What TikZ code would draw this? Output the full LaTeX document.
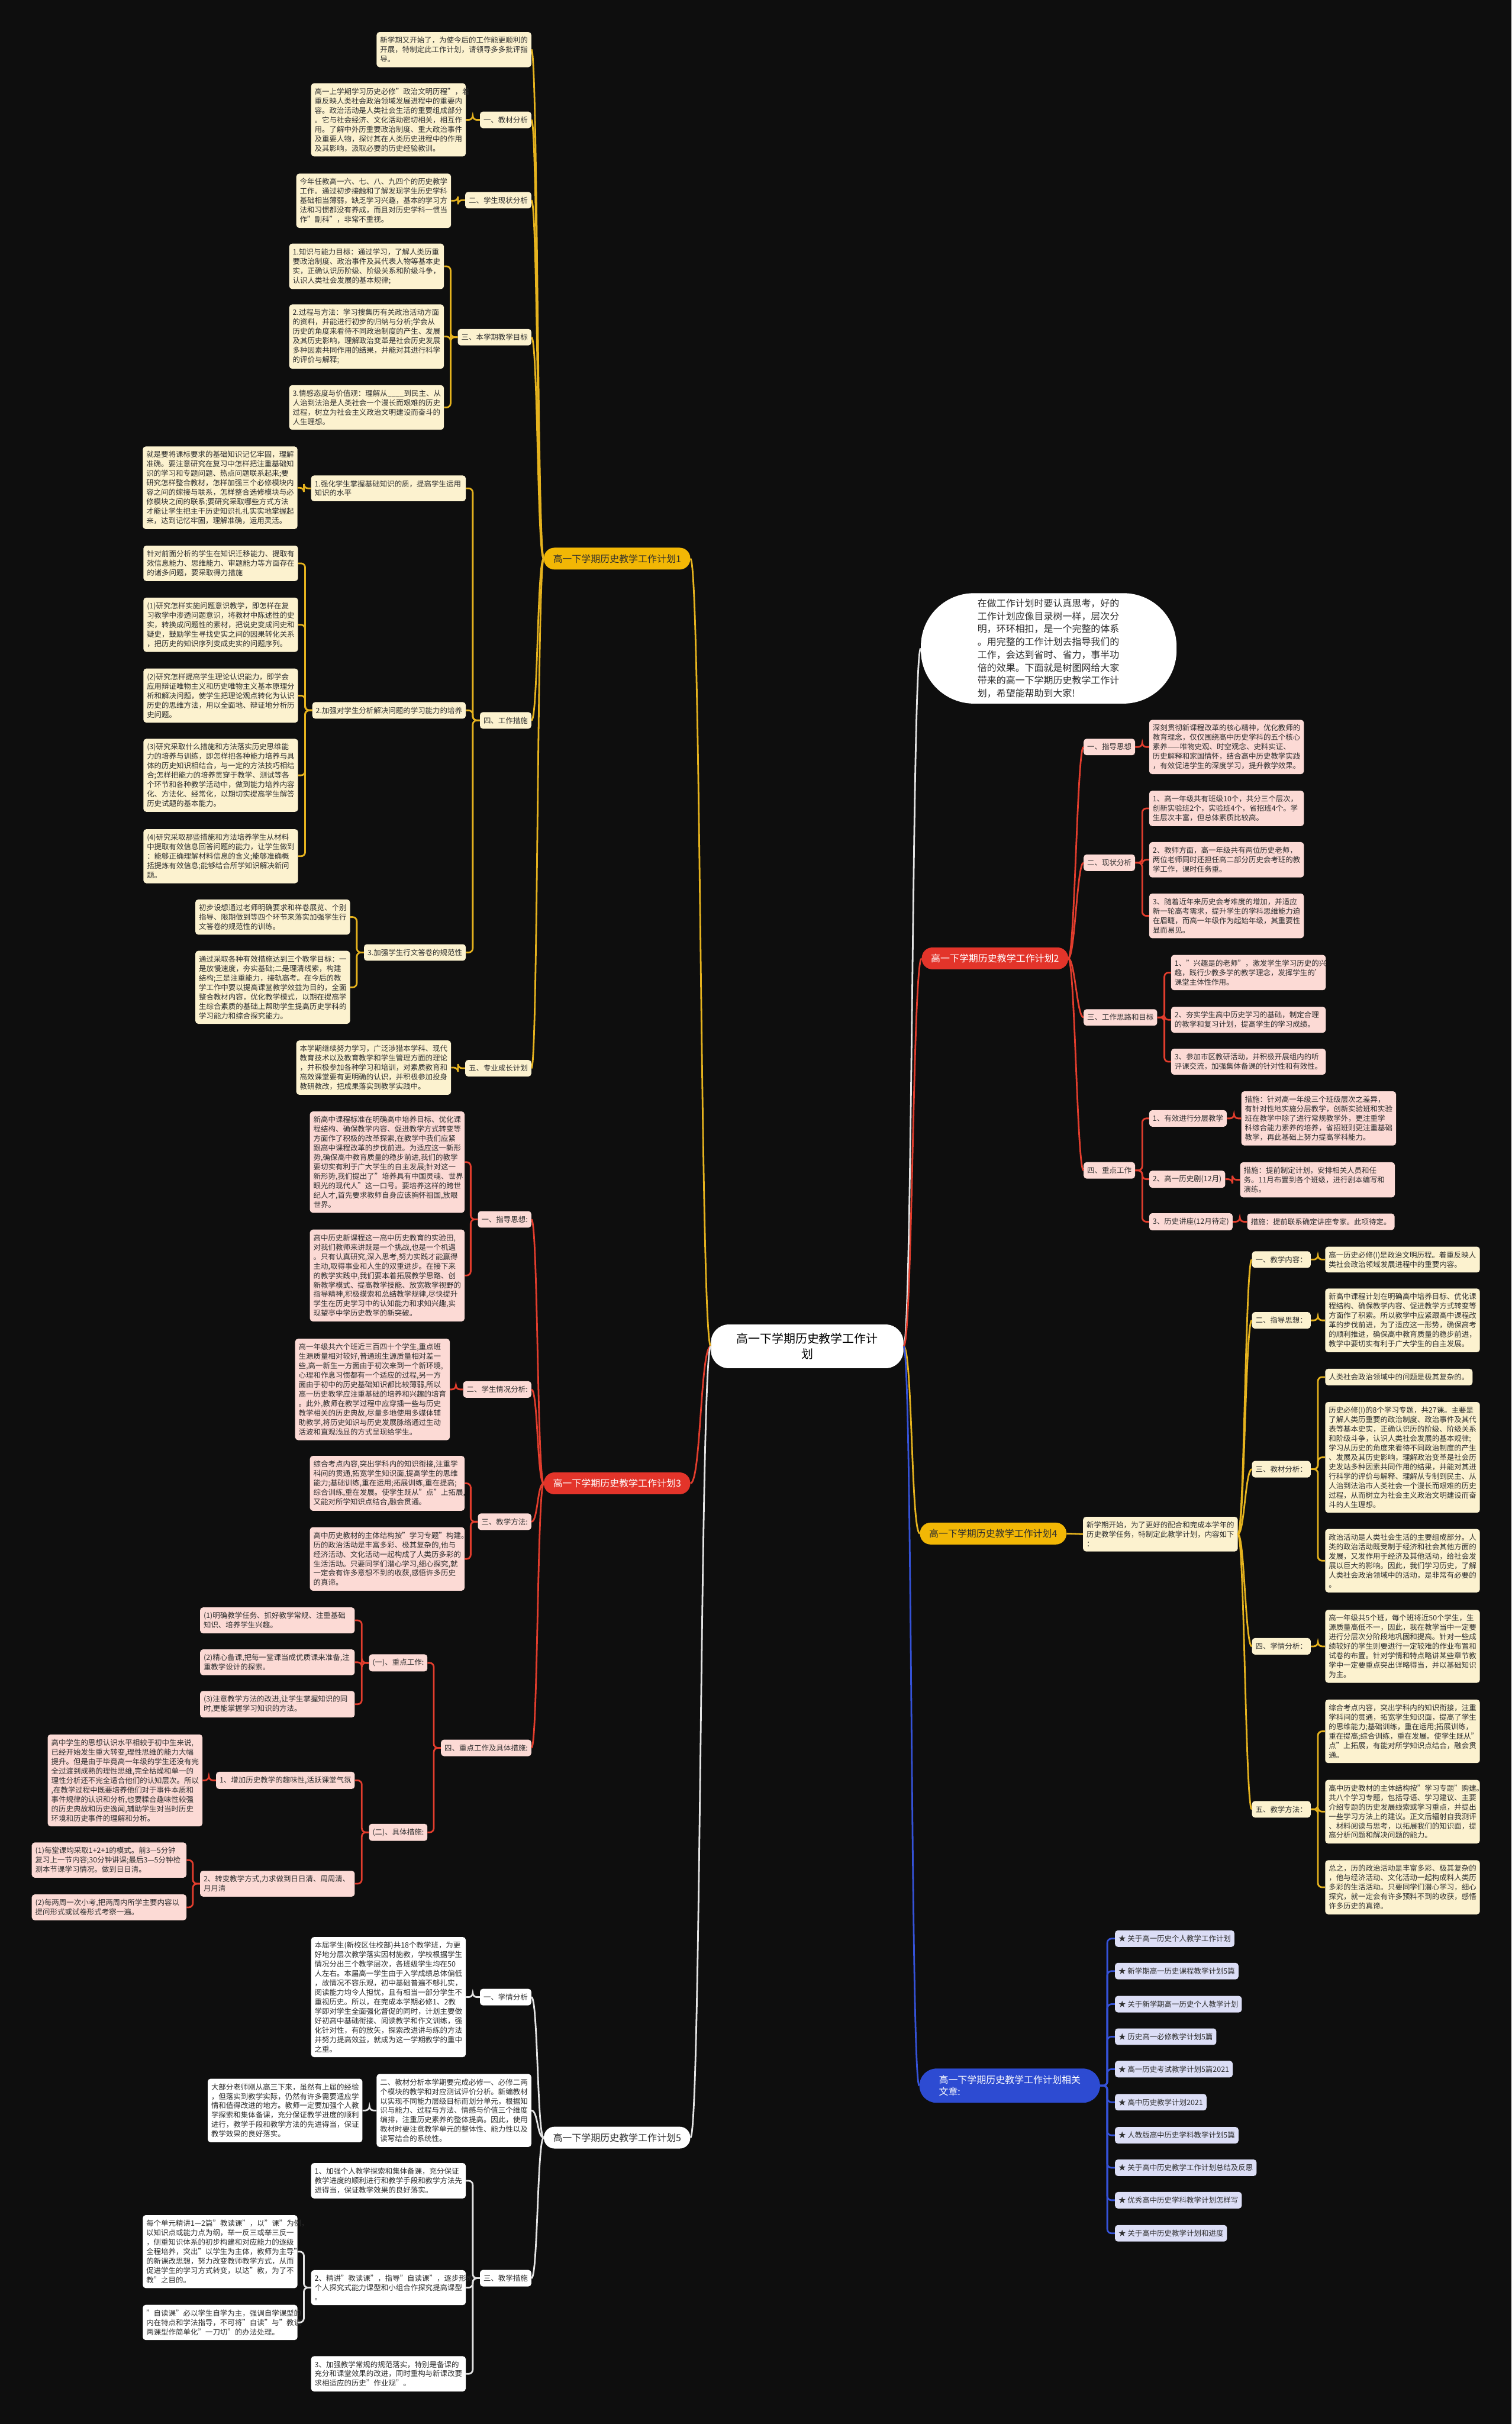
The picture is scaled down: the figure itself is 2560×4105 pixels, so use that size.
\documentclass[tikz,border=0pt]{standalone}
\usepackage{fontspec}
\setmainfont{Noto Sans CJK SC}
\definecolor{bgc}{HTML}{0E0E0E}
\definecolor{txt}{HTML}{2E2E2E}
\definecolor{ycol}{HTML}{E6B31E}
\definecolor{ybr}{HTML}{F2B705}
\definecolor{ccream}{HTML}{FCF2CF}
\definecolor{rcol}{HTML}{E23D2D}
\definecolor{rbr}{HTML}{E3342A}
\definecolor{cpink}{HTML}{FCDAD5}
\definecolor{wcol}{HTML}{E4E4E4}
\definecolor{bcol}{HTML}{3552D8}
\definecolor{bbr}{HTML}{2D4BD2}
\definecolor{clav}{HTML}{DCDEF6}
\newcommand\fsz{\fontsize{12.5pt}{16pt}\selectfont}
\newcommand\fbr{\fontsize{16pt}{20pt}\selectfont}
\newcommand\fctr{\fontsize{20pt}{26pt}\selectfont}
\newcommand\fbub{\fontsize{16pt}{21.8pt}\selectfont}
\newcommand\myCL[3]{\draw[#1] (#2.west) .. controls +(-11,0) and +(11,0) .. (#3.east);}
\newcommand\myCR[3]{\draw[#1] (#2.east) .. controls +(11,0) and +(-11,0) .. (#3.west);}
\newcommand\myEL[3]{\draw[#1] (#2.west) -- ++(-12,0) |- (#3.east);}
\newcommand\myER[3]{\draw[#1] (#2.east) -- ++(12,0) |- (#3.west);}
\tikzset{
  base/.style={rounded corners=5pt, inner xsep=6pt, inner ysep=8pt, text=txt, font=\fsz},
  box/.style={base, text width=250pt, align=left},
  lab/.style={base, minimum height=28pt},
  ybox/.style={box, fill=ccream}, ylab/.style={lab, fill=ccream},
  rbox/.style={box, fill=cpink}, rlab/.style={lab, fill=cpink},
  wbox/.style={box, fill=white}, wlab/.style={lab, fill=white},
  lnk/.style={lab, fill=clav},
  br/.style={rounded corners=18pt, minimum width=248pt, minimum height=37pt, inner xsep=8pt, font=\fbr},
  ylc/.style={draw=ycol, line width=2.8pt, rounded corners=7pt},
  rlc/.style={draw=rcol, line width=2.8pt, rounded corners=7pt},
  wlc/.style={draw=wcol, line width=2.8pt, rounded corners=7pt},
  blc/.style={draw=bcol, line width=2.8pt, rounded corners=7pt}
}
\begin{document}
\hyphenpenalty=10000
\exhyphenpenalty=10000
\begin{tikzpicture}[x=1pt,y=-1pt]
\fill[bgc] (0,0) rectangle (2560,4105);
\useasboundingbox (0,0) rectangle (2560,4105);

% ---------- centre, bubble ----------
\node[fill=white, rounded corners=30pt, text width=240pt, align=center, inner xsep=43pt, inner ysep=12pt, minimum height=74pt, font=\fctr, text=black] (c) at (1367,2280) {高一下学期历史教学工作计\\划};
\node[fill=white, rounded corners=90pt, text width=241pt, align=left, inner xsep=96pt, minimum height=187pt, font=\fbub, text=txt] (bub) at (1776,1098) {在做工作计划时要认真思考，好的\\工作计划应像目录树一样，层次分\\明，环环相扣，是一个完整的体系\\。用完整的工作计划去指导我们的\\工作，会达到省时、省力，事半功\\倍的效果。下面就是树图网给大家\\带来的高一下学期历史教学工作计\\划，希望能帮助到大家!};

% ---------- branch 1 ----------
\node[br, fill=ybr, text=txt] (b1) at (1045,946) {高一下学期历史教学工作计划1};
\node[ybox, anchor=east] (n1a) at (900,84) {新学期又开始了，为使今后的工作能更顺利的\\开展，特制定此工作计划，请领导多多批评指\\导。};
\node[ylab, anchor=east] (n1b) at (900,203) {一、教材分析};
\node[ybox, anchor=east] (n1b1) at (789,203) {高一上学期学习历史必修"政治文明历程"，着\\重反映人类社会政治领域发展进程中的重要内\\容。政治活动是人类社会生活的重要组成部分\\。它与社会经济、文化活动密切相关，相互作\\用。了解中外历重要政治制度、重大政治事件\\及重要人物，探讨其在人类历史进程中的作用\\及其影响，汲取必要的历史经验教训。};
\node[ylab, anchor=east] (n1c) at (900,339) {二、学生现状分析};
\node[ybox, anchor=east] (n1c1) at (764,340) {今年任教高一六、七、八、九四个的历史教学\\工作。通过初步接触和了解发现学生历史学科\\基础相当薄弱，缺乏学习兴趣，基本的学习方\\法和习惯都没有养成，而且对历史学科一惯当\\作"副科"，非常不重视。};
\node[ylab, anchor=east] (n1d) at (900,571) {三、本学期教学目标};
\node[ybox, anchor=east] (n1d1) at (752,451) {1.知识与能力目标：通过学习，了解人类历重\\要政治制度、政治事件及其代表人物等基本史\\实，正确认识历阶级、阶级关系和阶级斗争，\\认识人类社会发展的基本规律;};
\node[ybox, anchor=east] (n1d2) at (752,570) {2.过程与方法：学习搜集历有关政治活动方面\\的资料，并能进行初步的归纳与分析;学会从\\历史的角度来看待不同政治制度的产生、发展\\及其历史影响，理解政治变革是社会历史发展\\多种因素共同作用的结果，并能对其进行科学\\的评价与解释;};
\node[ybox, anchor=east] (n1d3) at (752,690) {3.情感态度与价值观：理解从\_\_\_\_到民主、从\\人治到法治是人类社会一个漫长而艰难的历史\\过程，树立为社会主义政治文明建设而奋斗的\\人生理想。};
\node[ylab, anchor=east] (n1e) at (900,1220) {四、工作措施};
\node[ybox, anchor=east] (n1e1) at (789,827) {1.强化学生掌握基础知识的质，提高学生运用\\知识的水平};
\node[ybox, anchor=east] (n1e1a) at (504,826) {就是要将课标要求的基础知识记忆牢固，理解\\准确。要注意研究在复习中怎样把注重基础知\\识的学习和专题问题、热点问题联系起来;要\\研究怎样整合教材，怎样加强三个必修模块内\\容之间的嫁接与联系，怎样整合选修模块与必\\修模块之间的联系;要研究采取哪些方式方法\\才能让学生把主干历史知识扎扎实实地掌握起\\来，达到记忆牢固，理解准确，运用灵活。};
\node[ylab, anchor=east] (n1e2) at (789,1203) {2.加强对学生分析解决问题的学习能力的培养};
\node[ybox, anchor=east] (n1e2a) at (505,954) {针对前面分析的学生在知识迁移能力、提取有\\效信息能力、思维能力、审题能力等方面存在\\的诸多问题，要采取得力措施};
\node[ybox, anchor=east] (n1e2b) at (505,1058) {(1)研究怎样实施问题意识教学，即怎样在复\\习教学中渗透问题意识，将教材中陈述性的史\\实，转换成问题性的素材，把说史变成问史和\\疑史，鼓励学生寻找史实之间的因果转化关系\\，把历史的知识序列变成史实的问题序列。};
\node[ybox, anchor=east] (n1e2c) at (505,1178) {(2)研究怎样提高学生理论认识能力，即学会\\应用辩证唯物主义和历史唯物主义基本原理分\\析和解决问题，使学生把理论观点转化为认识\\历史的思维方法，用以全面地、辩证地分析历\\史问题。};
\node[ybox, anchor=east] (n1e2d) at (505,1313) {(3)研究采取什么措施和方法落实历史思维能\\力的培养与训练，即怎样把各种能力培养与具\\体的历史知识相结合，与一定的方法技巧相结\\合;怎样把能力的培养贯穿于教学、测试等各\\个环节和各种教学活动中，做到能力培养内容\\化、方法化、经常化，以期切实提高学生解答\\历史试题的基本能力。};
\node[ybox, anchor=east] (n1e2e) at (505,1450) {(4)研究采取那些措施和方法培养学生从材料\\中提取有效信息回答问题的能力，让学生做到\\：能够正确理解材料信息的含义;能够准确概\\括提炼有效信息;能够结合所学知识解决新问\\题。};
\node[ylab, anchor=east] (n1e3) at (789,1613) {3.加强学生行文答卷的规范性};
\node[ybox, anchor=east] (n1e3a) at (593,1553) {初步设想通过老师明确要求和样卷展览、个别\\指导、限期做到等四个环节来落实加强学生行\\文答卷的规范性的训练。};
\node[ybox, anchor=east] (n1e3b) at (593,1672) {通过采取各种有效措施达到三个教学目标：一\\是放慢速度，夯实基础;二是理清线索，构建\\结构;三是注重能力，接轨高考。在今后的教\\学工作中要以提高课堂教学效益为目的，全面\\整合教材内容，优化教学模式，以期在提高学\\生综合素质的基础上帮助学生提高历史学科的\\学习能力和综合探究能力。};
\node[ylab, anchor=east] (n1f) at (900,1809) {五、专业成长计划};
\node[ybox, anchor=east] (n1f1) at (764,1808) {本学期继续努力学习，广泛涉猎本学科、现代\\教育技术以及教育教学和学生管理方面的理论\\，并积极参加各种学习和培训，对素质教育和\\高效课堂要有更明确的认识，并积极参加投身\\教研教改，把成果落实到教学实践中。};

% ---------- branch 3 ----------
\node[br, fill=rbr, text=white] (b3) at (1045,2512) {高一下学期历史教学工作计划3};
\node[rlab, anchor=east] (n3a) at (900,2065) {一、指导思想:};
\node[rbox, anchor=east] (n3a1) at (787,1968) {新高中课程标准在明确高中培养目标、优化课\\程结构、确保教学内容、促进教学方式转变等\\方面作了积极的改革探索,在教学中我们应紧\\跟高中课程改革的步伐前进。为适应这一新形\\势,确保高中教育质量的稳步前进,我们的教学\\要切实有利于广大学生的自主发展;针对这一\\新形势,我们提出了"培养具有中国灵魂、世界\\眼光的现代人"这一口号。要培养这样的跨世\\纪人才,首先要求教师自身应该胸怀祖国,放眼\\世界。};
\node[rbox, anchor=east] (n3a2) at (787,2160) {高中历史新课程这一高中历史教育的实验田,\\对我们教师来讲既是一个挑战,也是一个机遇\\。只有认真研究,深入思考,努力实践才能赢得\\主动,取得事业和人生的双重进步。在接下来\\的教学实践中,我们要本着拓展教学思路、创\\新教学模式、提高教学技能、放宽教学视野的\\指导精神,积极摸索和总结教学规律,尽快提升\\学生在历史学习中的认知能力和求知兴趣,实\\现望亭中学历史教学的新突破。};
\node[rlab, anchor=east] (n3b) at (900,2353) {二、学生情况分析:};
\node[rbox, anchor=east] (n3b1) at (762,2353) {高一年级共六个班近三百四十个学生,重点班\\生源质量相对较好,普通班生源质量相对差一\\些,高一新生一方面由于初次来到一个新环境,\\心理和作息习惯都有一个适应的过程,另一方\\面由于初中的历史基础知识都比较薄弱,所以\\高一历史教学应注重基础的培养和兴趣的培育\\。此外,教师在教学过程中应穿插一些与历史\\教学相关的历史典故,尽量多地使用多媒体辅\\助教学,将历史知识与历史发展脉络通过生动\\活波和直观浅显的方式呈现给学生。};
\node[rlab, anchor=east] (n3c) at (900,2577) {三、教学方法:};
\node[rbox, anchor=east] (n3c1) at (787,2512) {综合考点内容,突出学科内的知识衔接,注重学\\科间的贯通,拓宽学生知识面,提高学生的思维\\能力;基础训练,重在运用;拓展训练,重在提高;\\综合训练,重在发展。使学生既从"点"上拓展,\\又能对所学知识点结合,融会贯通。};
\node[rbox, anchor=east] (n3c2) at (787,2640) {高中历史教材的主体结构按"学习专题"构建。\\历的政治活动是丰富多彩、极其复杂的,他与\\经济活动、文化活动一起构成了人类历多彩的\\生活活动。只要同学们潜心学习,细心探究,就\\一定会有许多意想不到的收获,感悟许多历史\\的真谛。};
\node[rlab, anchor=east] (n3d) at (900,2960) {四、重点工作及具体措施:};
\node[rlab, anchor=east] (n3d1) at (724,2816) {(一)、重点工作:};
\node[rbox, anchor=east] (n3d1a) at (601,2744) {(1)明确教学任务、抓好教学常规、注重基础\\知识、培养学生兴趣。};
\node[rbox, anchor=east] (n3d1b) at (601,2815) {(2)精心备课,把每一堂课当成优质课来准备,注\\重教学设计的探索。};
\node[rbox, anchor=east] (n3d1c) at (601,2886) {(3)注意教学方法的改进,让学生掌握知识的同\\时,更能掌握学习知识的方法。};
\node[rlab, anchor=east] (n3d2) at (724,3103) {(二)、具体措施:};
\node[rlab, anchor=east] (n3d2a) at (601,3015) {1、增加历史教学的趣味性,活跃课堂气氛};
\node[rbox, anchor=east] (n3d2a1) at (343,3015) {高中学生的思想认识水平相较于初中生来说,\\已经开始发生重大转变,理性思维的能力大幅\\提升。但是由于毕竟高一年级的学生还没有完\\全过渡到成熟的理性思维,完全枯燥和单一的\\理性分析还不完全适合他们的认知层次。所以\\,在教学过程中既要培养他们对于事件本质和\\事件规律的认识和分析,也要糅合趣味性较强\\的历史典故和历史逸闻,辅助学生对当时历史\\环境和历史事件的理解和分析。};
\node[rbox, anchor=east] (n3d2b) at (601,3190) {2、转变教学方式,力求做到日日清、周周清、\\月月清};
\node[rbox, anchor=east] (n3d2b1) at (316,3150) {(1)每堂课均采取1+2+1的模式。前3—5分钟\\复习上一节内容;30分钟讲课;最后3—5分钟检\\测本节课学习情况。做到日日清。};
\node[rbox, anchor=east] (n3d2b2) at (316,3230) {(2)每两周一次小考,把两周内所学主要内容以\\提问形式或试卷形式考察一遍。};

% ---------- branch 5 ----------
\node[br, fill=white, text=txt] (b5) at (1045,3620) {高一下学期历史教学工作计划5};
\node[wlab, anchor=east] (n5a) at (900,3382) {一、学情分析};
\node[wbox, anchor=east] (n5a1) at (789,3382) {本届学生(新校区住校部)共18个教学班，为更\\好地分层次教学落实因材施教，学校根据学生\\情况分出三个教学层次，各班级学生均在50\\人左右。本届高一学生由于入学成绩总体偏低\\，故情况不容乐观，初中基础普遍不够扎实，\\阅读能力均令人担忧，且有相当一部分学生不\\重视历史。所以，在完成本学期必修1、2教\\学即对学生全面强化督促的同时，计划主要做\\好初高中基础衔接、阅读教学和作文训练，强\\化针对性，有的放矢，探索改进讲与练的方法\\并努力提高效益，就成为这一学期教学的重中\\之重。};
\node[wbox, anchor=east] (n5b) at (900,3574) {二、教材分析本学期要完成必修一、必修二两\\个模块的教学和对应测试评价分析。新编教材\\以实现不同能力层级目标而划分单元，根据知\\识与能力、过程与方法、情感与价值三个维度\\编排，注重历史素养的整体提高。因此，使用\\教材时要注意教学单元的整体性、能力性以及\\读写结合的系统性。};
\node[wbox, anchor=east] (n5b1) at (614,3574) {大部分老师刚从高三下来，虽然有上届的经验\\，但落实到教学实际，仍然有许多需要适应学\\情和值得改进的地方。教师一定要加强个人教\\学探索和集体备课，充分保证教学进度的顺利\\进行，教学手段和教学方法的先进得当，保证\\教学效果的良好落实。};
\node[wlab, anchor=east] (n5c) at (900,3858) {三、教学措施};
\node[wbox, anchor=east] (n5c1) at (789,3693) {1、加强个人教学探索和集体备课，充分保证\\教学进度的顺利进行和教学手段和教学方法先\\进得当，保证教学效果的良好落实。};
\node[wbox, anchor=east] (n5c2) at (789,3874) {2、精讲"教读课"，指导"自读课"，逐步形成\\个人探究式能力课型和小组合作探究提高课型\\。};
\node[wbox, anchor=east] (n5c3) at (789,4020) {3、加强教学常规的规范落实，特别是备课的\\充分和课堂效果的改进，同时重构与新课改要\\求相适应的历史"作业观"。};
\node[wbox, anchor=east] (n5c2a) at (504,3813) {\mbox{每个单元精讲1—2篇"教读课"，以"课"为例，}\\以知识点或能力点为纲，举一反三或举三反一\\，侧重知识体系的初步构建和对应能力的逐级\\全程培养，突出"以学生为主体，教师为主导"\\的新课改思想，努力改变教师教学方式，从而\\促进学生的学习方式转变，以达"教，为了不\\教"之目的。};
\node[wbox, anchor=east] (n5c2b) at (504,3933) {"自读课"必以学生自学为主，强调自学课型的\\内在特点和学法指导，不可将"自读"与"教读"\\两课型作简单化"一刀切"的办法处理。};

% ---------- branch 2 ----------
\node[br, fill=rbr, text=white] (b2) at (1685,1623) {高一下学期历史教学工作计划2};
\node[rlab, anchor=west] (n2a) at (1835,1265) {一、指导思想};
\node[rbox, anchor=west] (n2a1) at (1946,1265) {深刻贯彻新课程改革的核心精神，优化教师的\\教育理念，仅仅围绕高中历史学科的五个核心\\素养——唯物史观、时空观念、史料实证、\\历史解释和家国情怀，结合高中历史教学实践\\，有效促进学生的深度学习，提升教学效果。};
\node[rlab, anchor=west] (n2b) at (1835,1461) {二、现状分析};
\node[rbox, anchor=west] (n2b1) at (1946,1369) {1、高一年级共有班级10个，共分三个层次，\\创新实验班2个，实验班4个，省招班4个。学\\生层次丰富，但总体素质比较高。};
\node[rbox, anchor=west] (n2b2) at (1946,1456) {2、教师方面，高一年级共有两位历史老师，\\两位老师同时还担任高二部分历史会考班的教\\学工作，课时任务重。};
\node[rbox, anchor=west] (n2b3) at (1946,1551) {3、随着近年来历史会考难度的增加，并适应\\新一轮高考需求，提升学生的学科思维能力迫\\在眉睫，而高一年级作为起始年级，其重要性\\显而易见。};
\node[rlab, anchor=west] (n2c) at (1835,1723) {三、工作思路和目标};
\node[rbox, anchor=west] (n2c1) at (1983,1647) {1、"兴趣是的老师"，激发学生学习历史的兴\\趣，践行少教多学的教学理念，发挥学生的'\\课堂主体性作用。};
\node[rbox, anchor=west] (n2c2) at (1983,1727) {2、夯实学生高中历史学习的基础，制定合理\\的教学和复习计划，提高学生的学习成绩。};
\node[rbox, anchor=west] (n2c3) at (1983,1798) {3、参加市区教研活动，并积极开展组内的听\\评课交流，加强集体备课的针对性和有效性。};
\node[rlab, anchor=west] (n2d) at (1835,1982) {四、重点工作};
\node[rlab, anchor=west] (n2d1) at (1946,1894) {1、有效进行分层教学};
\node[rlab, anchor=west] (n2d2) at (1946,1997) {2、高一历史剧(12月)};
\node[rlab, anchor=west] (n2d3) at (1946,2069) {3、历史讲座(12月待定)};
\node[rbox, anchor=west] (n2d1a) at (2102,1894) {措施：针对高一年级三个班级层次之差异，\\有针对性地实施分层教学，创新实验班和实验\\班在教学中除了进行常规教学外，更注重学\\科综合能力素养的培养，省招班则更注重基础\\教学，再此基础上努力提高学科能力。};
\node[rbox, anchor=west] (n2d2a) at (2100,1998) {措施：提前制定计划，安排相关人员和任\\务。11月布置到各个班级，进行剧本编写和\\演练。};
\node[rlab, anchor=west] (n2d3a) at (2112,2069) {措施：提前联系确定讲座专家。此项待定。};

% ---------- branch 4 ----------
\node[br, fill=ybr, text=txt] (b4) at (1682,2597) {高一下学期历史教学工作计划4};
\node[ybox, anchor=west] (n4t) at (1834,2598) {新学期开始，为了更好的配合和完成本学年的\\历史教学任务，特制定此教学计划，内容如下\\：};
\node[ylab, anchor=west] (n4a) at (2120,2133) {一、教学内容：};
\node[ybox, anchor=west] (n4a1) at (2244,2133) {高一历史必修(I)是政治文明历程。着重反映人\\类社会政治领域发展进程中的重要内容。};
\node[ylab, anchor=west] (n4b) at (2120,2236) {二、指导思想：};
\node[ybox, anchor=west] (n4b1) at (2244,2236) {新高中课程计划在明确高中培养目标、优化课\\程结构、确保教学内容、促进教学方式转变等\\方面作了积索。所以教学中应紧跟高中课程改\\革的步伐前进，为了适应这一形势，确保高考\\的顺利推进，确保高中教育质量的稳步前进，\\教学中要切实有利于广大学生的自主发展。};
\node[ylab, anchor=west] (n4c) at (2120,2488) {三、教材分析：};
\node[ylab, anchor=west] (n4c1) at (2244,2332) {人类社会政治领域中的问题是极其复杂的。};
\node[ybox, anchor=west] (n4c2) at (2244,2468) {历史必修(I)的8个学习专题，共27课。主要是\\了解人类历重要的政治制度、政治事件及其代\\表等基本史实，正确认识历的阶级、阶级关系\\和阶级斗争，认识人类社会发展的基本规律;\\学习从历史的角度来看待不同政治制度的产生\\、发展及其历史影响，理解政治变革是社会历\\史发站多种因素共同作用的结果，并能对其进\\行科学的评价与解释、理解从专制到民主、从\\人治到法治市人类社会一个漫长而艰难的历史\\过程，从而树立为社会主义政治文明建设而奋\\斗的人生理想。};
\node[ybox, anchor=west] (n4c3) at (2244,2643) {政治活动是人类社会生活的主要组成部分。人\\类的政治活动既受制于经济和社会其他方面的\\发展，又发作用于经济及其他活动，给社会发\\展以巨大的影响。因此，我们学习历史，了解\\人类社会政治领域中的活动，是非常有必要的\\。};
\node[ylab, anchor=west] (n4d) at (2120,2788) {四、学情分析：};
\node[ybox, anchor=west] (n4d1) at (2244,2788) {高一年级共5个班，每个班将近50个学生，生\\源质量高低不一，因此，我在教学当中一定要\\进行分层次分阶段地巩固和提高。针对一些成\\绩较好的学生则要进行一定较难的作业布置和\\试卷的布置。针对学情和特点略讲某些章节教\\学中一定要重点突出详略得当，并以基础知识\\为主。};
\node[ylab, anchor=west] (n4e) at (2120,3064) {五、教学方法：};
\node[ybox, anchor=west] (n4e1) at (2244,2932) {综合考点内容，突出学科内的知识衔接，注重\\学科间的贯通，拓宽学生知识面，提高了学生\\的思维能力;基础训练，重在运用;拓展训练，\\重在提高;综合训练，重在发展。使学生既从"\\点"上拓展，有能对所学知识点结合，融会贯\\通。};
\node[ybox, anchor=west] (n4e2) at (2244,3068) {高中历史教材的主体结构按"学习专题"购建。\\共八个学习专题，包括导语、学习建议、主要\\介绍专题的历史发展线索或学习重点，并提出\\一些学习方法上的建议。正文后辐射自我测评\\、材料阅读与思考，以拓展我们的知识面，提\\高分析问题和解决问题的能力。};
\node[ybox, anchor=west] (n4e3) at (2244,3196) {总之，历的政治活动是丰富多彩、极其复杂的\\，他与经济活动、文化活动一起构成料人类历\\多彩的生活活动。只要同学们潜心学习，细心\\探究，就一定会有许多预料不到的收获，感悟\\许多历史的真谛。};

% ---------- related ----------
\node[fill=bbr, text=white, rounded corners=29pt, text width=240pt, align=left, inner xsep=33pt, minimum height=58pt, font=\fbr] (bn) at (1710,3532) {高一下学期历史教学工作计划相关\\文章:};
\node[lnk, anchor=west] (k1) at (1888,3283) {★ 关于高一历史个人教学工作计划};
\node[lnk, anchor=west] (k2) at (1888,3338) {★ 新学期高一历史课程教学计划5篇};
\node[lnk, anchor=west] (k3) at (1888,3394) {★ 关于新学期高一历史个人教学计划};
\node[lnk, anchor=west] (k4) at (1888,3449) {★ 历史高一必修教学计划5篇};
\node[lnk, anchor=west] (k5) at (1888,3504) {★ 高一历史考试教学计划5篇2021};
\node[lnk, anchor=west] (k6) at (1888,3560) {★ 高中历史教学计划2021};
\node[lnk, anchor=west] (k7) at (1888,3616) {★ 人教版高中历史学科教学计划5篇};
\node[lnk, anchor=west] (k8) at (1888,3671) {★ 关于高中历史教学工作计划总结及反思};
\node[lnk, anchor=west] (k9) at (1888,3726) {★ 优秀高中历史学科教学计划怎样写};
\node[lnk, anchor=west] (k10) at (1888,3782) {★ 关于高中历史教学计划和进度};

% ---------- connectors ----------
\draw[ylc] (c.west) .. controls +(-18,0) and +(18,0) .. (b1.east);
\draw[rlc] (c.west) .. controls +(-18,0) and +(18,0) .. (b3.east);
\draw[wlc] (c.west) .. controls +(-18,0) and +(18,0) .. (b5.east);
\draw[wlc] (c.east) .. controls +(15,0) and +(-15,0) .. (bub.west);
\draw[rlc] (c.east) .. controls +(15,0) and +(-15,0) .. (b2.west);
\draw[ylc] (c.east) .. controls +(15,0) and +(-15,0) .. (b4.west);
\draw[blc] (c.east) .. controls +(15,0) and +(-15,0) .. (bn.west);

\foreach \t in {n1a,n1b,n1c,n1d,n1e,n1f} {\myCL{ylc}{b1}{\t}}
\myEL{ylc}{n1b}{n1b1}
\myEL{ylc}{n1c}{n1c1}
\foreach \t in {n1d1,n1d2,n1d3} {\myEL{ylc}{n1d}{\t}}
\foreach \t in {n1e1,n1e2,n1e3} {\myEL{ylc}{n1e}{\t}}
\myEL{ylc}{n1e1}{n1e1a}
\foreach \t in {n1e2a,n1e2b,n1e2c,n1e2d,n1e2e} {\myEL{ylc}{n1e2}{\t}}
\foreach \t in {n1e3a,n1e3b} {\myEL{ylc}{n1e3}{\t}}
\myEL{ylc}{n1f}{n1f1}

\foreach \t in {n3a,n3b,n3c,n3d} {\myCL{rlc}{b3}{\t}}
\foreach \t in {n3a1,n3a2} {\myEL{rlc}{n3a}{\t}}
\myEL{rlc}{n3b}{n3b1}
\foreach \t in {n3c1,n3c2} {\myEL{rlc}{n3c}{\t}}
\foreach \t in {n3d1,n3d2} {\myEL{rlc}{n3d}{\t}}
\foreach \t in {n3d1a,n3d1b,n3d1c} {\myEL{rlc}{n3d1}{\t}}
\foreach \t in {n3d2a,n3d2b} {\myEL{rlc}{n3d2}{\t}}
\myEL{rlc}{n3d2a}{n3d2a1}
\foreach \t in {n3d2b1,n3d2b2} {\myEL{rlc}{n3d2b}{\t}}

\foreach \t in {n5a,n5b,n5c} {\myCL{wlc}{b5}{\t}}
\myEL{wlc}{n5a}{n5a1}
\myEL{wlc}{n5b}{n5b1}
\foreach \t in {n5c1,n5c2,n5c3} {\myEL{wlc}{n5c}{\t}}
\foreach \t in {n5c2a,n5c2b} {\myEL{wlc}{n5c2}{\t}}

\foreach \t in {n2a,n2b,n2c,n2d} {\myCR{rlc}{b2}{\t}}
\myER{rlc}{n2a}{n2a1}
\foreach \t in {n2b1,n2b2,n2b3} {\myER{rlc}{n2b}{\t}}
\foreach \t in {n2c1,n2c2,n2c3} {\myER{rlc}{n2c}{\t}}
\foreach \t in {n2d1,n2d2,n2d3} {\myER{rlc}{n2d}{\t}}
\myER{rlc}{n2d1}{n2d1a}
\myER{rlc}{n2d2}{n2d2a}
\myER{rlc}{n2d3}{n2d3a}

\draw[ylc] (b4.east) -- (n4t.west);
\foreach \t in {n4a,n4b,n4c,n4d,n4e} {\myCR{ylc}{n4t}{\t}}
\myER{ylc}{n4a}{n4a1}
\myER{ylc}{n4b}{n4b1}
\foreach \t in {n4c1,n4c2,n4c3} {\myER{ylc}{n4c}{\t}}
\myER{ylc}{n4d}{n4d1}
\foreach \t in {n4e1,n4e2,n4e3} {\myER{ylc}{n4e}{\t}}

\foreach \t in {k1,k2,k3,k4,k5,k6,k7,k8,k9,k10} {\myER{blc}{bn}{\t}}
\end{tikzpicture}
\end{document}
